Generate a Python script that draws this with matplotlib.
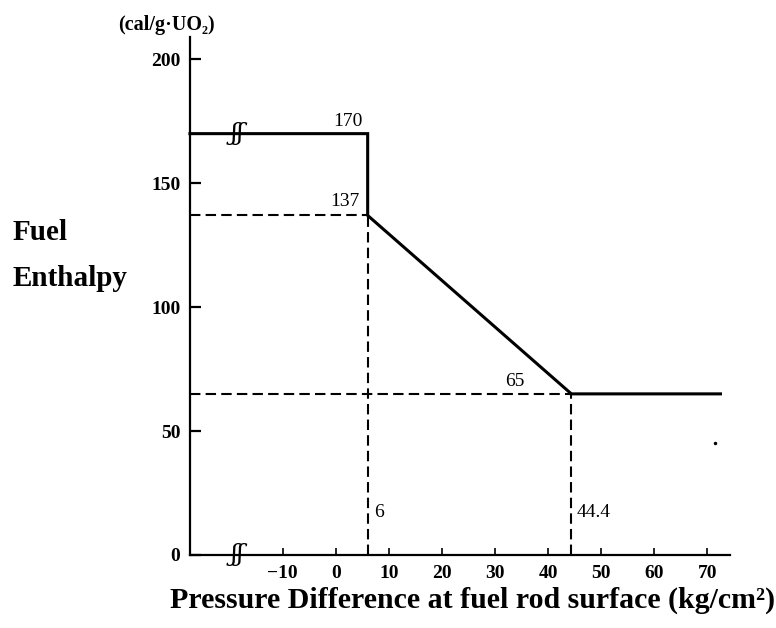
import matplotlib
matplotlib.use("Agg")
import matplotlib.pyplot as plt

plt.rcParams['font.family'] = ['Liberation Serif', 'DejaVu Serif']

# 연료 엔탈피 기준선 (kg/cm2, cal/g-UO2)
x_break = [6, 44.4]
h_upper = 170
h_knee = [137, 65]
x_left = -27.5
x_right = 72.5
x_ticks = [-10, 0, 10, 20, 30, 40, 50, 60, 70]
y_ticks = [0, 50, 100, 150, 200]
stray_dot = (71.5, 45)
break_x = -18.5

fig = plt.figure(figsize=(7.76, 6.28), dpi=100)
ax = fig.add_axes([0.2448, 0.1163, 0.6959, 0.8248])
ax.set_xlim(x_left, 74.3)
ax.set_ylim(0, 209)

# 실선: 170 -> 137 -> 65
ax.plot([x_left, x_break[0], x_break[0], x_break[1], x_right],
        [h_upper, h_upper, h_knee[0], h_knee[1], h_knee[1]],
        color='black', lw=2.2, solid_joinstyle='miter', clip_on=False)

# 점선 보조선
dash = dict(color='black', lw=1.5, ls=(0, (5, 2.5)))
ax.plot([x_left, x_break[0]], [h_knee[0], h_knee[0]], **dash)
ax.plot([x_left, x_break[1]], [h_knee[1], h_knee[1]], **dash)
ax.plot([x_break[0], x_break[0]], [0, h_knee[0]], **dash)
ax.plot([x_break[1], x_break[1]], [0, h_knee[1]], **dash)

ax.plot(*stray_dot, 'o', color='black', ms=1.5)

# 축 생략 표시
for yb in (h_upper, 0):
    ax.text(break_x, yb, 'ʃʃ', ha='center', va='center', fontsize=18,
            family=['DejaVu Serif'], style='italic', clip_on=False)

# 값 라벨
lab = dict(textcoords='offset pixels', fontsize=14)
ax.annotate(str(h_upper), (x_break[0], h_upper), xytext=(-5, 4),
            ha='right', va='bottom', **lab)
ax.annotate(str(h_knee[0]), (x_break[0], h_knee[0]), xytext=(-8, 5),
            ha='right', va='bottom', **lab)
ax.annotate(str(h_knee[1]), (x_break[1], h_knee[1]), xytext=(-47, 4),
            ha='right', va='bottom', **lab)
ax.annotate('6', (x_break[0], 17), xytext=(6, 0), ha='left', va='center', **lab)
ax.annotate('44.4', (x_break[1], 17), xytext=(5, 0), ha='left', va='center', **lab)

# 축 스타일
for s in ('top', 'right'):
    ax.spines[s].set_visible(False)
for s in ('left', 'bottom'):
    ax.spines[s].set_linewidth(1.6)
ax.set_xticks(x_ticks)
ax.set_xticklabels(['−10' if t < 0 else str(t) for t in x_ticks])
ax.set_yticks(y_ticks)
ax.tick_params(axis='x', direction='in', length=5, width=1.2, pad=7, labelsize=14)
ax.tick_params(axis='y', direction='in', length=8, width=1.6, pad=7, labelsize=14)
for t in ax.get_xticklabels() + ax.get_yticklabels():
    t.set_fontweight('bold')

fig.text(118 / 776, 1 - 25 / 628, '(cal/g·UO₂)', ha='left', va='center',
         fontsize=14.5, fontweight='bold')
fig.text(13 / 776, 1 - 233 / 628, 'Fuel', ha='left', va='center',
         fontsize=21, fontweight='bold')
fig.text(13 / 776, 1 - 278 / 628, 'Enthalpy', ha='left', va='center',
         fontsize=21, fontweight='bold')
fig.text(473 / 776, 1 - 600 / 628, 'Pressure Difference at fuel rod surface (kg/cm²)',
         ha='center', va='center', fontsize=21.5, fontweight='bold')

fig.savefig('out.png', dpi=100, facecolor='white')
